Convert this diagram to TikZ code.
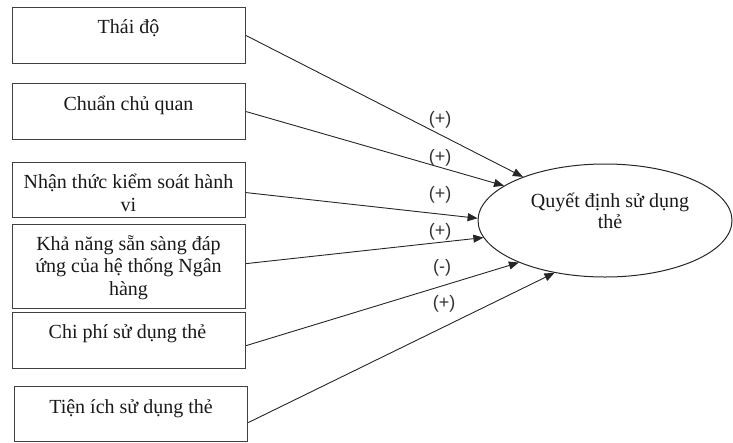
\documentclass[tikz,border=0pt]{standalone}
\usepackage{fontspec}
\setmainfont{Liberation Serif}
\newfontfamily\lblfont{Liberation Sans}
\usetikzlibrary{arrows.meta,shapes.geometric}
\begin{document}
\begin{tikzpicture}[x=1pt,y=-1pt,
  box/.style={draw=black!75, line width=1.2pt, inner sep=0pt, minimum width=233pt},
  txt/.style={anchor=base, inner sep=0pt, font=\fontsize{20}{23}\selectfont, text=black!90},
  sign/.style={inner sep=0pt, font=\lblfont\fontsize{18}{20}\selectfont, text=black!80},
  conn/.style={draw=black!85, line width=0.9pt, -{Triangle[length=10pt,width=8pt]}},
]
\useasboundingbox (0,0) rectangle (733,442);
% boxes
\node[box, minimum height=56pt, anchor=north west] (b1) at (12,7) {};
\node[box, minimum height=56pt, anchor=north west] (b2) at (12,83) {};
\node[box, minimum height=55pt, anchor=north west] (b3) at (12,162) {};
\node[box, minimum height=84pt, anchor=north west] (b4) at (12,224) {};
\node[box, minimum height=56pt, anchor=north west] (b5) at (12,312) {};
\node[box, minimum height=55pt, anchor=north west] (b6) at (14,386) {};
% box texts
\node[txt] (t1) at (128.5,33) {Thái độ};
\node[txt] (t2) at (128.5,110) {Chuẩn chủ quan};
\node[txt] (t3a) at (128.5,188) {Nhận thức kiểm soát hành};
\node[txt] (t3b) at (128.5,211) {vi};
\node[txt] (t4a) at (128.5,250) {Khả năng sẵn sàng đáp};
\node[txt] (t4b) at (128.5,272) {ứng của hệ thống Ngân};
\node[txt] (t4c) at (128.5,295) {hàng};
\node[txt] (t5) at (127.5,338) {Chi phí sử dụng thẻ};
\node[txt] (t6) at (131,413) {Tiện ích sử dụng thẻ};
% ellipse
\node[draw=black!85, line width=1pt, ellipse, minimum width=254pt, minimum height=113pt, inner sep=0pt] (q) at (605,220.5) {};
\node[txt] (qa) at (610,207) {Quyết định sử dụng};
\node[txt] (qb) at (610,228) {thẻ};
% connectors
\draw[conn] (b1.east) -- (q.152);
\draw[conn] (b2.east) -- (q.161.6);
\draw[conn] ([yshift=-2.5pt]b3.east) -- (q.179.3);
\draw[conn] ([yshift=3pt]b4.east) -- (q.188.3);
\draw[conn] ([yshift=-5pt]b5.east) -- (q.206.3);
\draw[conn] ([yshift=-8.5pt]b6.east) -- (q.226.8);
% signs
\node[sign] (s1) at (440,120) {(+)};
\node[sign] (s2) at (440,158) {(+)};
\node[sign] (s3) at (440,195) {(+)};
\node[sign] (s4) at (440,232) {(+)};
\node[sign] (s5) at (442,268) {(-)};
\node[sign] (s6) at (444,304) {(+)};
\end{tikzpicture}
\end{document}
